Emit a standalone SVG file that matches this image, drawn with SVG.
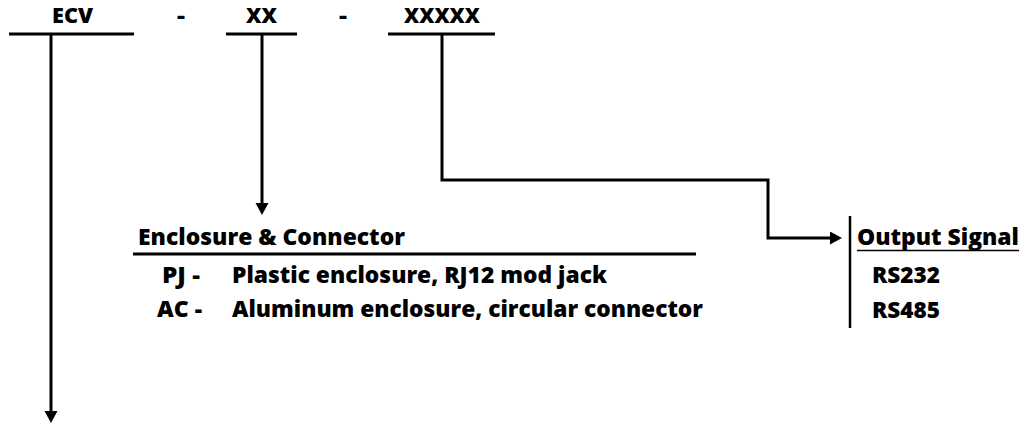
<svg xmlns="http://www.w3.org/2000/svg" width="1028" height="425" viewBox="0 0 1028 425">
  <style>
    .t { font-family: "Open Sans", "Liberation Sans", sans-serif; font-weight: 800; fill: #000; }
    .top { font-size: 21px; }
    .body { font-size: 22.5px; }
    .bar { stroke: #000; stroke-width: 3; fill: none; }
    .conn { stroke: #000; stroke-width: 3; fill: none; stroke-linejoin: miter; }
  </style>
  <defs>
    <marker id="arrow" markerUnits="userSpaceOnUse" markerWidth="14" markerHeight="14" refX="0" refY="6.5" orient="auto">
      <path d="M0,0 L12,6.5 L0,13 z" fill="#000"/>
    </marker>
  </defs>
  <rect width="1028" height="425" fill="#fff"/>

  <g id="ecv">
    <text class="t top" x="52" y="23" textLength="41" lengthAdjust="spacingAndGlyphs">ECV</text>
    <line class="bar" x1="9" y1="34" x2="134" y2="34"/>
  </g>
  <g id="dash1">
    <text class="t top" x="177" y="23" textLength="8" lengthAdjust="spacingAndGlyphs">-</text>
  </g>
  <g id="xx">
    <text class="t top" x="246" y="23" textLength="31" lengthAdjust="spacingAndGlyphs">XX</text>
    <line class="bar" x1="226" y1="34" x2="297" y2="34"/>
  </g>
  <g id="dash2">
    <text class="t top" x="339" y="23" textLength="8" lengthAdjust="spacingAndGlyphs">-</text>
  </g>
  <g id="xxxxx">
    <text class="t top" x="404" y="23" textLength="76" lengthAdjust="spacingAndGlyphs">XXXXX</text>
    <line class="bar" x1="388" y1="34" x2="495" y2="34"/>
  </g>

  <g id="enclosure">
    <text class="t body" x="138" y="245" textLength="267" lengthAdjust="spacingAndGlyphs">Enclosure &amp; Connector</text>
    <line class="bar" x1="133" y1="254" x2="696" y2="254"/>
    <text class="t body" x="162" y="283" textLength="38" lengthAdjust="spacingAndGlyphs">PJ -</text>
    <text class="t body" x="232" y="283" textLength="375" lengthAdjust="spacingAndGlyphs">Plastic enclosure, RJ12 mod jack</text>
    <text class="t body" x="157" y="317" textLength="45" lengthAdjust="spacingAndGlyphs">AC -</text>
    <text class="t body" x="232" y="317" textLength="471" lengthAdjust="spacingAndGlyphs">Aluminum enclosure, circular connector</text>
  </g>

  <g id="output">
    <line x1="850" y1="216" x2="850" y2="328" stroke="#000" stroke-width="2.5"/>
    <text class="t body" x="857" y="245" textLength="162" lengthAdjust="spacingAndGlyphs">Output Signal</text>
    <line x1="857" y1="250.5" x2="1019" y2="250.5" stroke="#000" stroke-width="1.5"/>
    <text class="t body" x="872" y="283" textLength="68" lengthAdjust="spacingAndGlyphs">RS232</text>
    <text class="t body" x="872" y="318" textLength="68" lengthAdjust="spacingAndGlyphs">RS485</text>
  </g>

  <g id="connectors">
    <path class="conn" d="M51,34 V411" marker-end="url(#arrow)"/>
    <path class="conn" d="M262,34 V203" marker-end="url(#arrow)"/>
    <path class="conn" d="M442,34 V180 H768 V238 H830" marker-end="url(#arrow)"/>
  </g>
</svg>
